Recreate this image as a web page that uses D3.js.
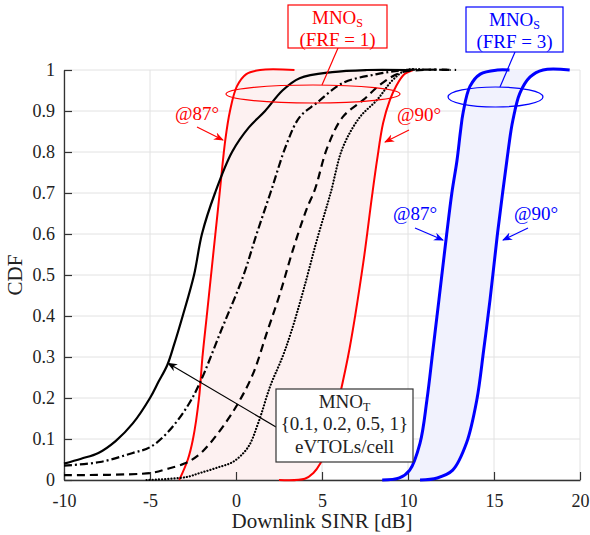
<!DOCTYPE html>
<html>
<head>
<meta charset="utf-8">
<script src="https://cdn.jsdelivr.net/npm/d3@7"></script>
<style>
  body { margin: 0; background: #fff; }
  svg { display: block; font-family: "Liberation Serif", serif; }
</style>
</head>
<body>
<div id="chart"></div>
<script>
// ticks
const xTicks = [-10, -5, 0, 5, 10, 15, 20];
const yTicks = [0, 0.1, 0.2, 0.3, 0.4, 0.5, 0.6, 0.7, 0.8, 0.9, 1];

// MNO_T curves, [SINR dB, CDF], for {0.1, 0.2, 0.5, 1} eVTOLs/cell
const mnoT01 = [[-10, 0.04], [-9, 0.052], [-8, 0.066], [-7, 0.095], [-6, 0.138], [-5, 0.2], [-4.5, 0.24],
    [-4, 0.28], [-3.6, 0.33], [-3.1, 0.4], [-2.44, 0.5], [-1.98, 0.6], [-1.22, 0.7], [-0.23, 0.8],
    [0.75, 0.86], [1.69, 0.9], [2.7, 0.95], [3.7, 0.98], [5.6, 0.995], [7.6, 1], [10, 1]];
const mnoT02 = [[-10, 0.035], [-7.9, 0.044], [-6, 0.066], [-5, 0.08], [-4, 0.115], [-2.85, 0.178], [-2.1, 0.237],
    [-0.85, 0.366], [0.4, 0.495], [1.2, 0.6], [2.0, 0.7], [2.95, 0.82], [3.7, 0.885], [4.7, 0.92], [6.2, 0.968],
    [8.2, 0.99], [9.9, 1], [12.5, 1]];
const mnoT05 = [[-10, 0.012], [-5, 0.017], [-4, 0.027], [-3, 0.04], [-2.2, 0.06], [-1.5, 0.09], [-0.5, 0.146],
    [0.23, 0.195], [1.0, 0.26], [1.8, 0.36], [2.56, 0.455], [3.3, 0.56], [4.1, 0.66], [4.6, 0.71], [5.3, 0.81],
    [6.2, 0.885], [7.4, 0.927], [8.5, 0.968], [9.7, 0.995], [12.8, 1]];
const mnoT1 = [[-5.2, 0], [-2.9, 0.007], [-2.1, 0.017], [-1.1, 0.03], [-0.15, 0.045], [0.7, 0.08], [1.3, 0.14],
    [2.0, 0.23], [2.7, 0.3], [3.2, 0.36], [3.9, 0.46], [4.7, 0.585], [5.5, 0.7], [6.2, 0.81], [7.2, 0.885],
    [8.2, 0.927], [9.1, 0.975], [9.9, 1], [11, 1]];

// MNO_S, FRF = 1
const frf1At87 = [[-3.3, 0], [-2.8, 0.05], [-2.5, 0.1], [-2.15, 0.2], [-1.95, 0.3], [-1.7, 0.4], [-1.45, 0.5],
    [-1.2, 0.6], [-0.95, 0.7], [-0.62, 0.83], [-0.35, 0.9], [0.05, 0.96], [0.6, 0.99], [1.4, 1], [3.4, 1]];
const frf1At90 = [[2.5, 0], [4.0, 0.003], [4.5, 0.017], [4.9, 0.04], [5.3, 0.08], [6.0, 0.2], [6.6, 0.32],
    [7.4, 0.53], [7.9, 0.69], [8.2, 0.78], [8.55, 0.87], [8.95, 0.927], [9.3, 0.96], [9.8, 0.99], [10.3, 1]];

// MNO_S, FRF = 3
const frf3At87 = [[8.5, 0], [9.5, 0.005], [10.1, 0.024], [10.7, 0.09], [11.1, 0.195], [11.45, 0.317],
    [11.8, 0.44], [12.25, 0.6], [12.55, 0.7], [12.85, 0.78], [13.05, 0.85], [13.2, 0.895], [13.6, 0.96],
    [14.2, 0.99], [15.2, 1], [15.9, 1]];
const frf3At90 = [[10.7, 0], [11.7, 0.005], [12.6, 0.024], [13.4, 0.09], [14.0, 0.195], [14.4, 0.317],
    [14.77, 0.44], [15.2, 0.6], [15.5, 0.7], [15.75, 0.78], [15.98, 0.85], [16.1, 0.878], [16.5, 0.943],
    [17.1, 0.983], [17.85, 1], [19.4, 1]];

const width = 590;
const height = 535;
const margin = {top: 70, right: 10, bottom: 55, left: 64};

const svg = d3.select('#chart').append('svg')
    .attr('width', width)
    .attr('height', height);

const defs = svg.append('defs');
const addMarker = (id, color) => {
    defs.append('marker')
        .attr('id', id)
        .attr('viewBox', '0 0 10 10')
        .attr('refX', 9)
        .attr('refY', 5)
        .attr('markerWidth', 10)
        .attr('markerHeight', 10)
        .attr('markerUnits', 'userSpaceOnUse')
        .attr('orient', 'auto')
        .append('path')
        .attr('d', 'M0,1 L10,5 L0,9 L3,5 Z')
        .attr('fill', color);
};
addMarker('arrRed', '#ff0000');
addMarker('arrBlue', '#0000ff');
addMarker('arrBlack', '#000');

const x = d3.scaleLinear().domain([-10, 20]).range([margin.left, width - margin.right]);
const y = d3.scaleLinear().domain([0, 1]).range([height - margin.bottom, margin.top]);

// grid
const grid = svg.append('g').attr('stroke', '#e2e2e2').attr('stroke-width', 1);
xTicks.forEach((t) => {
    grid.append('line').attr('x1', x(t)).attr('x2', x(t)).attr('y1', y(0)).attr('y2', y(1));
});
yTicks.forEach((t) => {
    grid.append('line').attr('x1', x(-10)).attr('x2', x(20)).attr('y1', y(t)).attr('y2', y(t));
});

const line = d3.line()
    .x(d => x(d[0]))
    .y(d => y(d[1]))
    .curve(d3.curveCatmullRom.alpha(0.5));

// band between the @87 and @90 curves
const band = (left, right) => line(left) + line(right.slice().reverse()).replace(/^M/, 'L') + 'Z';

svg.append('path').attr('d', band(frf1At87, frf1At90)).attr('fill', '#fdf1f1');
svg.append('path').attr('d', band(frf3At87, frf3At90)).attr('fill', '#f1f2fd');

// axes
const xAxis = d3.axisBottom(x).tickValues(xTicks).tickFormat(d => String(d))
    .tickSizeInner(-8).tickSizeOuter(0).tickPadding(14);
const yAxis = d3.axisLeft(y).tickValues(yTicks).tickFormat(d => String(d))
    .tickSizeInner(-8).tickSizeOuter(0).tickPadding(9);

const gx = svg.append('g').attr('transform', `translate(0, ${y(0)})`).call(xAxis);
const gy = svg.append('g').attr('transform', `translate(${x(-10)}, 0)`).call(yAxis);
[gx, gy].forEach((g) => {
    g.select('.domain').attr('stroke', '#333').attr('stroke-width', 1.3);
    g.selectAll('.tick line').attr('stroke', '#333').attr('stroke-width', 1.2);
    g.selectAll('.tick text').attr('font-size', 18).attr('fill', '#222')
        .attr('font-family', '"Liberation Serif", serif');
});

// curves
const drawCurve = (data, color, w, dash, cap) => {
    svg.append('path')
        .attr('d', line(data))
        .attr('fill', 'none')
        .attr('stroke', color)
        .attr('stroke-width', w)
        .attr('stroke-dasharray', dash)
        .attr('stroke-linecap', cap || 'butt')
        .attr('stroke-linejoin', 'round');
};

drawCurve(frf1At87, '#ff0000', 2, null);
drawCurve(frf1At90, '#ff0000', 2, null);
drawCurve(frf3At87, '#0000ff', 3, null);
drawCurve(frf3At90, '#0000ff', 3, null);
drawCurve(mnoT01, '#000', 2.2, null);
drawCurve(mnoT02, '#000', 2.2, '8,3,2,3');
drawCurve(mnoT05, '#000', 2.2, '8,5');
drawCurve(mnoT1, '#000', 2.2, '0.1,3', 'round');

// axis labels
svg.append('text')
    .attr('x', (x(-10) + x(20)) / 2)
    .attr('y', 528)
    .attr('text-anchor', 'middle')
    .attr('font-size', 21)
    .attr('fill', '#222')
    .text('Downlink SINR [dB]');

svg.append('text')
    .attr('transform', `translate(22, ${(y(0) + y(1)) / 2}) rotate(-90)`)
    .attr('text-anchor', 'middle')
    .attr('font-size', 21)
    .attr('fill', '#222')
    .text('CDF');

// annotations
const ann = svg.append('g');

const arrow = (x1, y1, x2, y2, color, marker) => {
    ann.append('line')
        .attr('x1', x1).attr('y1', y1).attr('x2', x2).attr('y2', y2)
        .attr('stroke', color).attr('stroke-width', 1.2)
        .attr('marker-end', `url(#${marker})`);
};

const label = (tx, ty, txt, color) => {
    ann.append('text')
        .attr('x', tx).attr('y', ty)
        .attr('text-anchor', 'middle')
        .attr('font-size', 19)
        .attr('fill', color)
        .text(txt);
};

// MNO box: name with subscript, further lines below
const mnoBox = (bx, by, bw, bh, sub, line2, color, stroke) => {
    ann.append('rect')
        .attr('x', bx).attr('y', by).attr('width', bw).attr('height', bh)
        .attr('fill', '#fff').attr('stroke', stroke).attr('stroke-width', 1.2);
    const t = ann.append('text')
        .attr('x', bx + bw / 2).attr('y', by + 19)
        .attr('text-anchor', 'middle')
        .attr('font-size', 19)
        .attr('fill', color);
    t.append('tspan').text('MNO');
    t.append('tspan').attr('font-size', 12).attr('dy', 3).text(sub);
    line2.forEach((s, i) => {
        ann.append('text')
            .attr('x', bx + bw / 2).attr('y', by + 41 + i * 23)
            .attr('text-anchor', 'middle')
            .attr('font-size', 19)
            .attr('fill', color)
            .text(s);
    });
};

// FRF = 1 (red)
ann.append('ellipse')
    .attr('cx', 313).attr('cy', 94).attr('rx', 87).attr('ry', 9)
    .attr('fill', 'none').attr('stroke', '#ff0000').attr('stroke-width', 1.2);
ann.append('line').attr('x1', 338).attr('y1', 48).attr('x2', 322).attr('y2', 85)
    .attr('stroke', '#ff0000').attr('stroke-width', 1.2);
mnoBox(288, 5, 99, 43, 'S', ['(FRF = 1)'], '#ff0000', '#ff0000');
label(197, 120, '@87°', '#ff0000');
arrow(197, 127, 223, 140, '#ff0000', 'arrRed');
label(419, 121, '@90°', '#ff0000');
arrow(409, 130, 385, 142, '#ff0000', 'arrRed');

// FRF = 3 (blue)
ann.append('ellipse')
    .attr('cx', 495.5).attr('cy', 97).attr('rx', 47.5).attr('ry', 10)
    .attr('fill', 'none').attr('stroke', '#0000ff').attr('stroke-width', 1.2);
ann.append('line').attr('x1', 515).attr('y1', 52).attr('x2', 500).attr('y2', 87)
    .attr('stroke', '#0000ff').attr('stroke-width', 1.2);
mnoBox(466, 7, 97, 45, 'S', ['(FRF = 3)'], '#0000ff', '#0000ff');
label(415, 220, '@87°', '#0000ff');
arrow(415, 228, 443, 240, '#0000ff', 'arrBlue');
label(536, 220, '@90°', '#0000ff');
arrow(528, 228, 503, 240, '#0000ff', 'arrBlue');

// MNO_T box
arrow(276, 427, x(-3.95), y(0.285), '#000', 'arrBlack');
mnoBox(276, 389, 137, 73, 'T', ['{0.1, 0.2, 0.5, 1}', 'eVTOLs/cell'], '#222', '#333');
</script>
</body>
</html>
